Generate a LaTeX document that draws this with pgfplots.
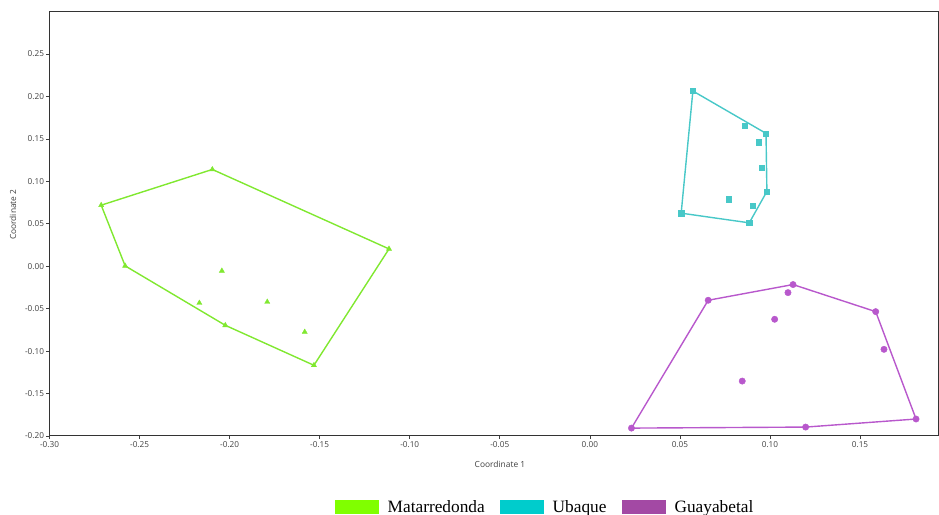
\documentclass[border=0pt]{standalone}
\usepackage{fontspec}
\usepackage{pgfplots}
\pgfplotsset{compat=1.18}
\setmainfont{Open Sans}
\newfontfamily\legfont{Liberation Serif}
\definecolor{mgreenL}{RGB}{128,255,0}
\definecolor{mgreen}{RGB}{128,232,48}
\definecolor{mcyanL}{RGB}{0,204,204}
\definecolor{mcyan}{RGB}{72,200,200}
\definecolor{mpurpL}{RGB}{163,73,164}
\definecolor{mpurp}{RGB}{184,88,204}
\pgfplotsset{my box/.style={legend image code/.code={\fill[##1, draw=none] (0bp,-7bp) rectangle (44bp,7bp);}}}
\begin{document}
\begin{tikzpicture}[x=1bp,y=1bp]
\path[use as bounding box] (0,0) rectangle (939,515);
\begin{axis}[
  at={(49.5bp,79bp)}, anchor=south west,
  width=888.5bp, height=424bp, scale only axis,
  xmin=-0.30, xmax=0.1933, ymin=-0.20, ymax=0.2995,
  xtick={-0.30,-0.25,-0.20,-0.15,-0.10,-0.05,0,0.05,0.10,0.15},
  ytick={-0.20,-0.15,-0.10,-0.05,0,0.05,0.10,0.15,0.20,0.25},
  xtick pos=bottom, ytick pos=left,
  /pgf/number format/.cd, fixed, fixed zerofill, precision=2, assume math mode=true,
  /pgfplots/.cd,
  tick align=outside, major tick length=3bp,
  tick style={black!75, line width=0.6bp},
  axis line style={black!80, line width=1bp},
  tick label style={font=\fontsize{8.2bp}{9bp}\selectfont, text=black!75},
  xticklabel style={yshift=1bp},
  yticklabel style={xshift=1bp},
  xlabel={Coordinate 1}, ylabel={Coordinate 2},
  label style={font=\fontsize{8.4bp}{9bp}\selectfont, text=black!75},
  xlabel style={at={(axis description cs:0.507,-0.066)}, anchor=center},
  ylabel style={at={(axis description cs:-0.041,0.522)}, anchor=center, rotate=0},
  legend style={at={(axis description cs:0.5577,-0.1675)}, anchor=center, draw=none, fill=none,
    font=\fontsize{17.3bp}{20bp}\selectfont\legfont,
    /tikz/every even column/.append style={column sep=13bp},
    /tikz/every odd column/.append style={column sep=7bp}},
  legend columns=3,
]
% Matarredonda hull
\addplot[mgreen, line width=1.4bp, no markers, forget plot] coordinates {
(-0.2713,0.0719) (-0.2096,0.1140) (-0.1115,0.0204) (-0.1532,-0.1167) (-0.2024,-0.0696) (-0.2580,0.0004) (-0.2713,0.0719)};
\addplot[only marks, mark=triangle*, mark size=3bp, mgreen, forget plot] coordinates {
(-0.2713,0.0719) (-0.2096,0.1140) (-0.1115,0.0204) (-0.1532,-0.1167) (-0.2024,-0.0696) (-0.2580,0.0004)
(-0.2043,-0.0055) (-0.2168,-0.0433) (-0.1791,-0.0421) (-0.1583,-0.0775)};
% Ubaque hull
\addplot[mcyan, line width=1.4bp, no markers, forget plot] coordinates {
(0.0572,0.2064) (0.0978,0.1565) (0.0983,0.0881) (0.0885,0.0511) (0.0507,0.0625) (0.0572,0.2064)};
\addplot[only marks, mark=square*, mark size=2.6bp, mcyan, forget plot] coordinates {
(0.0572,0.2064) (0.0978,0.1565) (0.0983,0.0881) (0.0885,0.0511) (0.0507,0.0625)
(0.0859,0.1651) (0.0939,0.1462) (0.0954,0.1156) (0.0769,0.0790) (0.0902,0.0711)};
% Guayabetal hull
\addplot[mpurp, line width=1.4bp, no markers, forget plot] coordinates {
(0.0231,-0.1907) (0.0657,-0.0401) (0.1128,-0.0216) (0.1587,-0.0535) (0.1811,-0.1800) (0.1198,-0.1895) (0.0231,-0.1907)};
\addplot[only marks, mark=*, mark size=3.2bp, mpurp, forget plot] coordinates {
(0.0231,-0.1907) (0.0657,-0.0401) (0.1128,-0.0216) (0.1587,-0.0535) (0.1811,-0.1800) (0.1198,-0.1895)
(0.1100,-0.0311) (0.1026,-0.0625) (0.1633,-0.0979) (0.0846,-0.1353)};
\addlegendimage{my box, fill=mgreenL}
\addlegendentry{Matarredonda}
\addlegendimage{my box, fill=mcyanL}
\addlegendentry{Ubaque}
\addlegendimage{my box, fill=mpurpL}
\addlegendentry{Guayabetal}
\end{axis}
\end{tikzpicture}
\end{document}
